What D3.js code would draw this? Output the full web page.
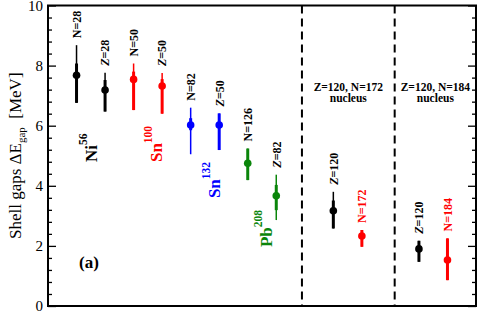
<!DOCTYPE html>
<html>
<head>
<meta charset="utf-8">
<script src="https://cdn.jsdelivr.net/npm/d3@7"></script>
<style>
  body { margin: 0; background: #fff; }
  svg { display: block; }
</style>
</head>
<body>
<div id="chart"></div>
<script>
// ── Data ───────────────────────────────────────────────────────────
const SLOTS     = [1, 2, 3, 4, 5, 6, 7, 8, 10, 11, 13, 14];
const LABELS    = ['N=28', 'Z=28', 'N=50', 'Z=50', 'N=82', 'Z=50', 'N=126', 'Z=82', 'Z=120', 'N=172', 'Z=120', 'N=184'];
const GAP       = [7.68, 7.19, 7.54, 7.32, 6.02, 6.02, 4.75, 3.67, 3.17, 2.33, 1.90, 1.53];
const OUTER_LO  = [6.76, 6.47, 6.52, 6.40, 5.05, 5.19, 4.19, 2.86, 2.58, 1.97, 1.47, 0.86];
const OUTER_HI  = [8.68, 7.76, 8.07, 7.75, 6.60, 6.41, 5.24, 4.37, 3.80, 2.53, 2.17, 2.25];
const INNER_LO  = [6.76, 6.47, 6.52, 6.40, 5.85, 5.19, 4.19, 3.19, 2.58, 1.97, 1.47, 0.86];
const INNER_HI  = [8.07, 7.52, 7.80, 7.55, 6.25, 6.41, 5.24, 4.03, 3.51, 2.53, 2.17, 2.25];
const BAR_COLOR = ['#000', '#000', '#f00', '#f00', '#00f', '#00f', '#0a850a', '#0a850a', '#000', '#f00', '#000', '#f00'];
const TXT_COLOR = ['#000', '#000', '#000', '#000', '#000', '#000', '#000', '#000', '#000', '#f00', '#000', '#f00'];

const Y_MAJOR   = [0, 2, 4, 6, 8, 10];
const DIVIDERS  = [8.9, 12.15];

// nucleus tags: [symbol, mass, colour, slot, value at text start]
const NUCLEI = [
  ['Ni', '56',  '#000',    1.72, 4.79],
  ['Sn', '100', '#f00',    4.00, 4.79],
  ['Sn', '132', '#00f',    6.03, 3.59],
  ['Pb', '208', '#0a850a', 7.85, 1.96],
];
const HEADERS = [
  ['Z=120, N=172', 'nucleus'],
  ['Z=120, N=184', 'nucleus'],
];

// ── Layout ────────────────────────────────────────────────────────
const W = 480, H = 313;
const M = { left: 48, right: 476, top: 5.5, bottom: 306 };
const SERIF = "'Liberation Serif','Times New Roman',serif";

const svg = d3.select('#chart').append('svg')
  .attr('width', W).attr('height', H)
  .attr('viewBox', `0 0 ${W} ${H}`);

const x = d3.scaleLinear().domain([0, 15]).range([M.left, M.right]);
const y = d3.scaleLinear().domain([0, 10]).range([M.bottom, M.top]);

// ── Axes: ticks inward on both sides ─────────────────────────────
const minorTicks = d3.range(0, 10.001, 0.4).filter(v => Math.abs(v / 2 - Math.round(v / 2)) > 1e-6);

function ticks(g, axisFn, vals, size) {
  g.call(axisFn(y).tickValues(vals).tickSize(size).tickSizeOuter(0).tickFormat(''));
  g.select('.domain').remove();
  g.selectAll('.tick line').attr('stroke', '#000').attr('stroke-width', 1.3);
}

svg.append('g').attr('transform', `translate(${M.left},0)`)
  .call(g => ticks(g, d3.axisRight, minorTicks, 4));
svg.append('g').attr('transform', `translate(${M.left},0)`)
  .call(g => ticks(g, d3.axisRight, Y_MAJOR, 8));
svg.append('g').attr('transform', `translate(${M.right},0)`)
  .call(g => ticks(g, d3.axisLeft, minorTicks, 4));
svg.append('g').attr('transform', `translate(${M.right},0)`)
  .call(g => ticks(g, d3.axisLeft, Y_MAJOR, 8));

// tick labels
svg.append('g').selectAll('text').data(Y_MAJOR).join('text')
  .attr('x', M.left - 5).attr('y', d => y(d))
  .attr('dy', '0.35em')
  .attr('text-anchor', 'end')
  .attr('font-family', SERIF).attr('font-size', 15)
  .text(d => d);

// frame
svg.append('rect')
  .attr('x', M.left).attr('y', M.top)
  .attr('width', M.right - M.left).attr('height', M.bottom - M.top)
  .attr('fill', 'none').attr('stroke', '#000').attr('stroke-width', 2);

// y title
const yt = svg.append('text')
  .attr('transform', `translate(21,${(M.top + M.bottom) / 2}) rotate(-90)`)
  .attr('text-anchor', 'middle')
  .attr('font-family', SERIF).attr('font-size', 17);
yt.append('tspan').text('Shell gaps \u0394E');
yt.append('tspan').attr('font-size', 11).attr('dy', 4).text('gap');
yt.append('tspan').attr('dy', -4).text('\u00a0\u00a0[MeV]');

// ── Dividers ─────────────────────────────────────────────────────
svg.append('g').selectAll('line').data(DIVIDERS).join('line')
  .attr('x1', d => x(d)).attr('x2', d => x(d))
  .attr('y1', M.top).attr('y2', M.bottom)
  .attr('stroke', '#000').attr('stroke-width', 2)
  .attr('stroke-dasharray', '8,5');

// ── Error bars ───────────────────────────────────────────────────
const idx = d3.range(SLOTS.length);
const pts = svg.append('g');

pts.selectAll('line.outer').data(idx).join('line').attr('class', 'outer')
  .attr('x1', i => x(SLOTS[i])).attr('x2', i => x(SLOTS[i]))
  .attr('y1', i => y(OUTER_LO[i])).attr('y2', i => y(OUTER_HI[i]))
  .attr('stroke', i => BAR_COLOR[i]).attr('stroke-width', 1.5);

pts.selectAll('line.inner').data(idx).join('line').attr('class', 'inner')
  .attr('x1', i => x(SLOTS[i])).attr('x2', i => x(SLOTS[i]))
  .attr('y1', i => y(INNER_LO[i])).attr('y2', i => y(INNER_HI[i]))
  .attr('stroke', i => BAR_COLOR[i]).attr('stroke-width', 3);

pts.selectAll('circle').data(idx).join('circle')
  .attr('cx', i => x(SLOTS[i])).attr('cy', i => y(GAP[i]))
  .attr('r', 3.8)
  .attr('fill', i => BAR_COLOR[i]);

// shell labels above each bar (rotated)
const lab = svg.append('g').selectAll('text').data(idx).join('text')
  .attr('transform', i => `translate(${x(SLOTS[i])},${y(OUTER_HI[i]) - 7}) rotate(-90)`)
  .attr('dy', '0.36em')
  .attr('font-family', SERIF).attr('font-size', 12).attr('font-weight', 'bold')
  .attr('fill', i => TXT_COLOR[i]);
lab.append('tspan')
  .attr('font-style', i => LABELS[i][0] === 'Z' ? 'italic' : 'normal')
  .text(i => LABELS[i][0]);
lab.append('tspan').text(i => LABELS[i].slice(1));

// nucleus tags
const nuc = svg.append('g').selectAll('text').data(NUCLEI).join('text')
  .attr('transform', d => `translate(${x(d[3])},${y(d[4])}) rotate(-90)`)
  .attr('font-family', SERIF).attr('font-weight', 'bold').attr('font-size', 17)
  .attr('fill', d => d[2]);
nuc.append('tspan').text(d => d[0]);
nuc.append('tspan').attr('font-size', 11.5).attr('dy', -10).text(d => d[1]);

// panel tag
svg.append('text')
  .attr('x', x(1.09)).attr('y', y(1.27))
  .attr('font-family', SERIF).attr('font-weight', 'bold').attr('font-size', 17)
  .text('(a)');

// headers of the two superheavy panels
const centres = [(DIVIDERS[0] + DIVIDERS[1]) / 2, (DIVIDERS[1] + 15) / 2];
HEADERS.forEach((lines, k) => {
  lines.forEach((s, j) => {
    svg.append('text')
      .attr('x', x(centres[k])).attr('y', y(7.15) + j * 10.5)
      .attr('text-anchor', 'middle')
      .attr('font-family', SERIF).attr('font-weight', 'bold').attr('font-size', 11.5)
      .text(s);
  });
});
</script>
</body>
</html>
